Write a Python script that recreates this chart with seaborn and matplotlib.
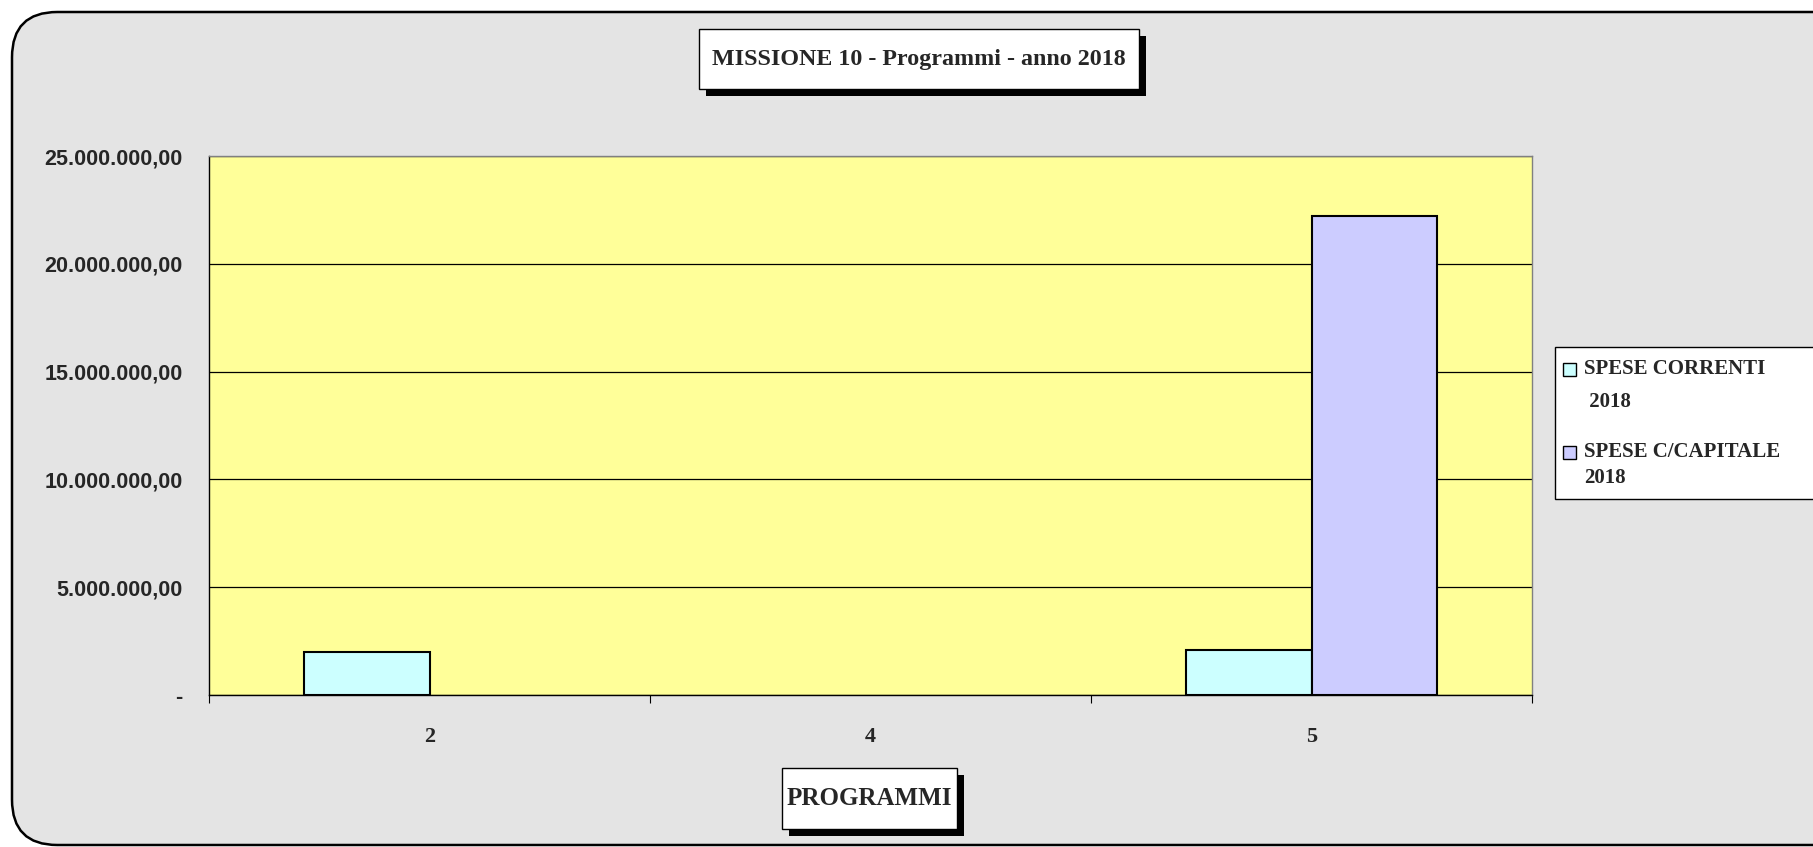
import pandas as pd
import matplotlib
matplotlib.use("Agg")
import matplotlib.pyplot as plt
import seaborn as sns
from matplotlib.patches import Rectangle, FancyBboxPatch
from matplotlib.ticker import FuncFormatter, FixedLocator

# === DATA ===
programmi = ["2", "4", "5"]
spese_correnti = [1980000, 0, 2090000]
spese_capitale = [0, 0, 22200000]
serie = ["SPESE CORRENTI\n 2018", "SPESE C/CAPITALE\n2018"]
colori = ["#CCFFFF", "#CCCCFF"]

TITOLO = "MISSIONE 10 - Programmi - anno 2018"
ETICHETTA_X = "PROGRAMMI"

W, H = 1813, 847


def fx(px):
    return px / W


def fy(py):
    return 1 - py / H


def it_format(v, pos):
    if abs(v) < 1:
        return "-"
    s = f"{v:,.2f}"
    return s.replace(",", "X").replace(".", ",").replace("X", ".")


def box_label(fig, x0, y0, x1, y1, text, size, shadow=7):
    fig.patches.append(Rectangle((fx(x0 + shadow), fy(y1 + shadow)), fx(x1 - x0), (y1 - y0) / H,
                                 transform=fig.transFigure, facecolor="black", edgecolor="none", zorder=5))
    fig.patches.append(Rectangle((fx(x0), fy(y1)), fx(x1 - x0), (y1 - y0) / H,
                                 transform=fig.transFigure, facecolor="white", edgecolor="black",
                                 linewidth=1.0, zorder=6))
    fig.text(fx((x0 + x1) / 2), fy((y0 + y1) / 2), text, ha="center", va="center",
             fontsize=size, fontweight="bold", family="Liberation Serif", zorder=7)


df = pd.DataFrame({
    "programma": programmi * 2,
    "voce": [serie[0]] * 3 + [serie[1]] * 3,
    "spesa": spese_correnti + spese_capitale,
})

sns.set_style("white")
fig = plt.figure(figsize=(W / 100, H / 100), dpi=100)
fig.patch.set_facecolor("white")

# rounded frame behind everything
fig.patches.append(FancyBboxPatch((fx(12), fy(845)), fx(1900), (845 - 12) / H,
                                  boxstyle="round,pad=0,rounding_size=0.025",
                                  transform=fig.transFigure, facecolor="#E4E4E4",
                                  edgecolor="black", linewidth=1.8, zorder=-5,
                                  mutation_aspect=W / H))

ax = fig.add_axes([fx(209), fy(695), fx(1532 - 209), (695 - 156) / H])
ax.set_facecolor("#FFFF99")

sns.barplot(data=df, x="programma", y="spesa", hue="voce", order=programmi,
            hue_order=serie, palette=colori, saturation=1, edgecolor="black",
            linewidth=1.5, width=0.571, errorbar=None, legend=False, ax=ax)

# empty bars are not drawn in the original
for p in ax.patches:
    if p.get_height() == 0:
        p.set_visible(False)

ax.set_ylim(0, 25000000)
ax.set_xlim(-0.5, 2.5)
ax.yaxis.set_major_locator(FixedLocator([0, 5e6, 10e6, 15e6, 20e6, 25e6]))
ax.yaxis.set_major_formatter(FuncFormatter(it_format))
ax.grid(axis="y", color="black", linewidth=0.9)
ax.set_axisbelow(True)

ax.set_xticks(range(len(programmi)))
ax.set_xticklabels(programmi)
ax.xaxis.set_minor_locator(FixedLocator([-0.5, 0.5, 1.5, 2.5]))
ax.tick_params(axis="x", which="major", length=0, pad=23)
ax.tick_params(axis="x", which="minor", length=6, width=0.8, color="black", direction="out")
ax.tick_params(axis="y", length=7, width=0.8, color="black", direction="out", pad=12)
ax.tick_params(axis="x", which="both", bottom=True)

for lab in ax.get_xticklabels():
    lab.set_fontweight("bold")
    lab.set_family("Liberation Serif")
    lab.set_fontsize(16)
for lab in ax.get_yticklabels():
    lab.set_fontweight("bold")
    lab.set_family("Liberation Sans")
    lab.set_fontsize(15.5)

ax.set_xlabel("")
ax.set_ylabel("")
for side in ["left", "bottom"]:
    ax.spines[side].set_color("black")
    ax.spines[side].set_linewidth(1.0)
for side in ["top", "right"]:
    ax.spines[side].set_color("#808080")
    ax.spines[side].set_linewidth(1.0)

box_label(fig, 699, 29, 1139, 89, TITOLO, 17.3)
box_label(fig, 782, 768, 957, 829, ETICHETTA_X, 18)

# legend drawn by hand so the marker sits on the first line of each entry
fig.patches.append(Rectangle((fx(1555), fy(499)), fx(300), (499 - 347) / H,
                             transform=fig.transFigure, facecolor="white",
                             edgecolor="black", linewidth=1.0, zorder=6))
entry_top = [369, 452]
line_gap = [33, 26]
for lbl, col, yt, gap in zip(serie, colori, entry_top, line_gap):
    fig.patches.append(Rectangle((fx(1563), fy(yt + 7)), fx(13), 13 / H,
                                 transform=fig.transFigure, facecolor=col,
                                 edgecolor="black", linewidth=1.0, zorder=7))
    for i, riga in enumerate(lbl.split("\n")):
        fig.text(fx(1584), fy(yt + i * gap), riga, ha="left", va="center",
                 fontsize=15, fontweight="bold", family="Liberation Serif", zorder=8)

fig.savefig("out.png", dpi=100, facecolor=fig.get_facecolor())
